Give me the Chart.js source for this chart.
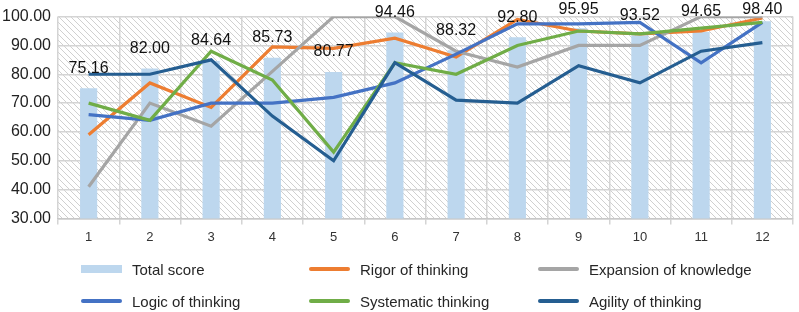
<!DOCTYPE html>
<html lang="en">
  <head>
    <meta charset="UTF-8" />
    <title>Scores</title>
    <script src="https://cdn.jsdelivr.net/npm/chart.js@4.4.0/dist/chart.umd.min.js"></script>
    <style>
      html, body { margin: 0; padding: 0; background: #fff; }
      .wrap { position: relative; width: 799px; height: 312px; }
      #legend { position: absolute; left: 0; top: 0; width: 799px; height: 312px; pointer-events: none;
        font-family: 'Liberation Sans', Arial, sans-serif; font-size: 15px; color: #262626; }
      .item { position: absolute; display: flex; align-items: center; }
      .sw { display: inline-block; width: 41px; margin-right: 10px; }
    </style>
  </head>
  <body>
    <div class="wrap">
      <canvas id="chart" width="799" height="312"></canvas>
      <div id="legend"></div>
    </div>

    <script>
      //data
      const labels = ['1', '2', '3', '4', '5', '6', '7', '8', '9', '10', '11', '12'];
      const totalScore = [75.16, 82.00, 84.64, 85.73, 80.77, 94.46, 88.32, 92.80, 95.95, 93.52, 94.65, 98.40];
      const rigor = [59, 77, 68.5, 89.5, 89, 92.5, 86, 99, 95, 94, 95, 99.5];
      const expansion = [41, 70, 62, 81, 100, 100, 88, 82.5, 90, 90, 100, 100];
      const logic = [66, 64, 70, 70, 72, 77, 87, 97.5, 97.5, 98, 84, 98];
      const systematic = [70, 64, 88, 78, 53, 84, 80, 90, 95, 94, 96, 98];
      const agility = [80, 80, 85, 65.5, 50, 84, 71, 70, 83, 77, 88, 91];

      const lineSeries = [
        { label: 'Rigor of thinking', data: rigor, color: '#ED7D31' },
        { label: 'Expansion of knowledge', data: expansion, color: '#A5A5A5' },
        { label: 'Logic of thinking', data: logic, color: '#4472C4' },
        { label: 'Systematic thinking', data: systematic, color: '#70AD47' },
        { label: 'Agility of thinking', data: agility, color: '#255E91' }
      ];

      // diagonal hatch behind the plot
      function makeHatch() {
        const c = document.createElement('canvas');
        c.width = 6; c.height = 6;
        const g = c.getContext('2d');
        g.strokeStyle = '#d0d0d0';
        g.lineWidth = 1;
        g.beginPath();
        g.moveTo(-1, -1); g.lineTo(7, 7);
        g.moveTo(-1, 5); g.lineTo(1, 7);
        g.moveTo(5, -1); g.lineTo(7, 1);
        g.stroke();
        return g.createPattern(c, 'repeat');
      }

      const hatchPlugin = {
        id: 'hatch',
        beforeDraw(chart) {
          const { ctx, chartArea: a } = chart;
          ctx.save();
          ctx.fillStyle = makeHatch();
          ctx.fillRect(a.left, a.top, a.right - a.left, a.bottom - a.top);
          ctx.restore();
        }
      };

      const valueLabels = {
        id: 'valueLabels',
        afterDatasetsDraw(chart) {
          const { ctx } = chart;
          const meta = chart.getDatasetMeta(0);
          ctx.save();
          ctx.font = '16px "Liberation Sans", Arial, sans-serif';
          ctx.fillStyle = '#111';
          ctx.textAlign = 'center';
          ctx.textBaseline = 'middle';
          meta.data.forEach((bar, i) => {
            const y = Math.max(bar.y - 20, 10);
            ctx.fillText(totalScore[i].toFixed(2), bar.x, y);
          });
          ctx.restore();
        }
      };

      //config
      const datasets = [{
        type: 'bar',
        label: 'Total score',
        data: totalScore,
        backgroundColor: '#BDD7EE',
        barPercentage: 0.28,
        categoryPercentage: 1,
        order: 10
      }];
      lineSeries.forEach((s, i) => {
        datasets.push({
          type: 'line',
          label: s.label,
          data: s.data,
          borderColor: s.color,
          backgroundColor: s.color,
          borderWidth: 3.2,
          pointRadius: 0,
          tension: 0,
          order: 5 - i
        });
      });

      const config = {
        data: { labels: labels, datasets: datasets },
        plugins: [hatchPlugin, valueLabels],
        options: {
          responsive: false,
          animation: false,
          layout: { padding: { top: 8, right: 6, bottom: 62, left: 0 } },
          plugins: { legend: { display: false }, tooltip: { enabled: false } },
          scales: {
            x: {
              offset: true,
              grid: { offset: true, color: '#d4d4d4', lineWidth: 1.5, tickLength: 6, drawOnChartArea: true },
              border: { color: '#c8c8c8', width: 1.5 },
              ticks: { color: '#333', font: { family: '"Liberation Sans", Arial, sans-serif', size: 13 }, padding: 5 }
            },
            y: {
              min: 30,
              max: 100,
              afterFit(s) { s.width = 58; },
              grid: { color: '#d4d4d4', lineWidth: 1.5, drawTicks: false },
              border: { display: false },
              ticks: {
                stepSize: 10,
                padding: 7,
                color: '#222',
                font: { family: '"Liberation Sans", Arial, sans-serif', size: 16 },
                callback: (v) => v.toFixed(2)
              }
            }
          }
        }
      };

      //init
      const chart = new Chart(document.getElementById('chart'), config);

      //legend
      const legendItems = [
        { label: 'Total score', color: '#BDD7EE', bar: true },
        ...lineSeries.map((s) => ({ label: s.label, color: s.color }))
      ];
      const colX = [81, 309, 538];
      const rowY = [269, 301];
      const legend = document.getElementById('legend');
      legendItems.forEach((it, i) => {
        const el = document.createElement('div');
        el.className = 'item';
        el.style.left = colX[i % 3] + 'px';
        el.style.top = (rowY[Math.floor(i / 3)] - 10) + 'px';
        el.style.height = '20px';
        const sw = document.createElement('span');
        sw.className = 'sw';
        sw.style.height = it.bar ? '8px' : '4px';
        sw.style.background = it.color;
        if (!it.bar) sw.style.borderRadius = '2px';
        el.appendChild(sw);
        el.appendChild(document.createTextNode(it.label));
        legend.appendChild(el);
      });
    </script>
  </body>
</html>
